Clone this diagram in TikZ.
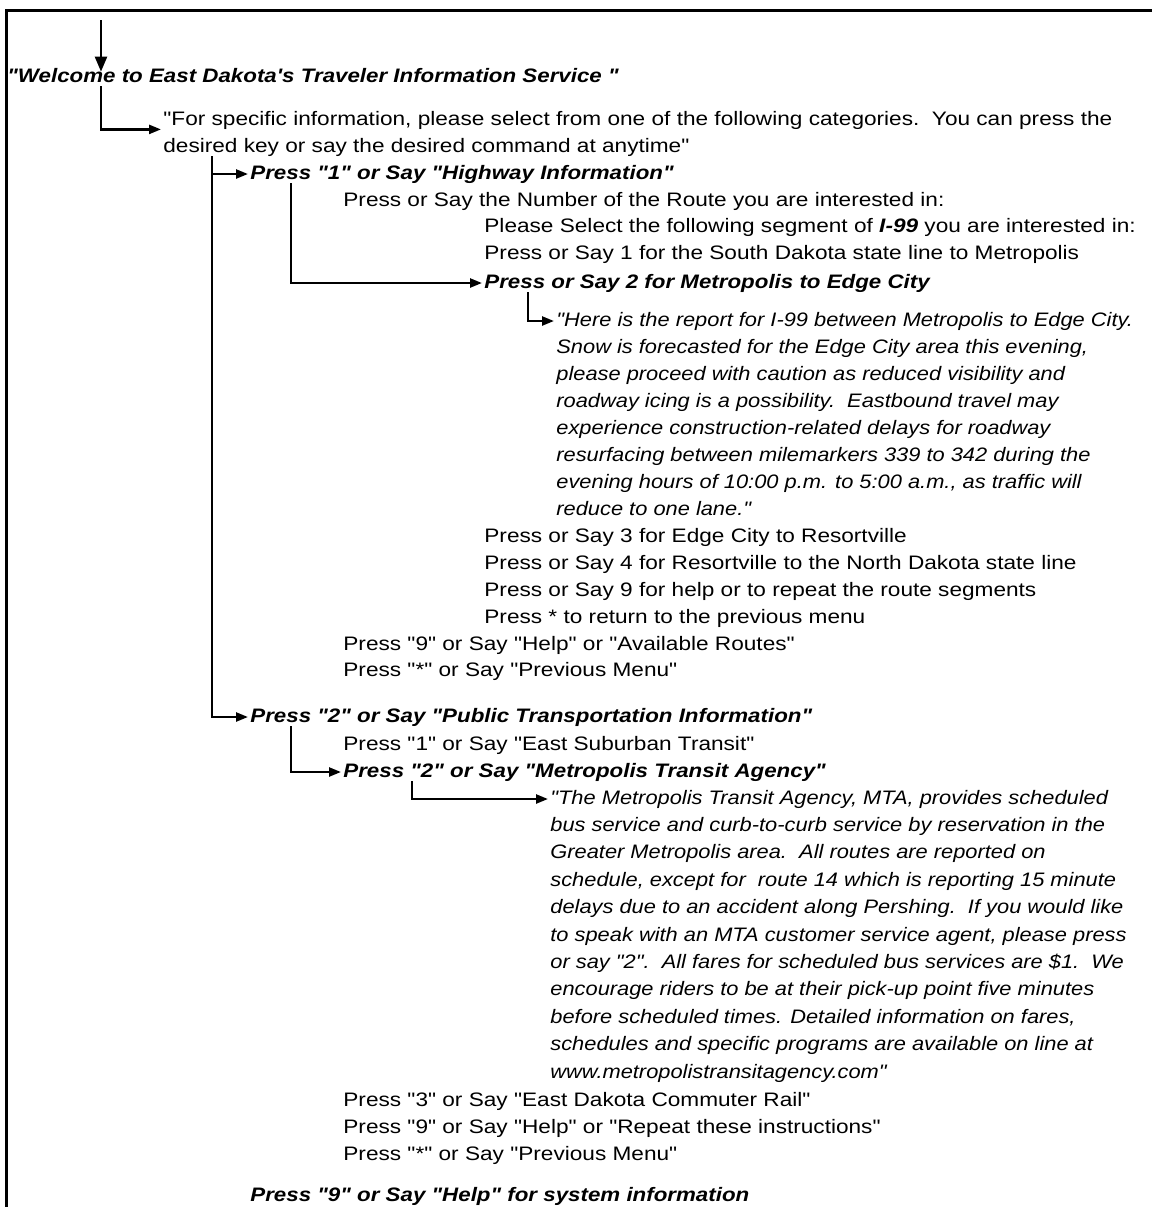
\documentclass[tikz,border=0pt]{standalone}
\usepackage{fontspec}
\setmainfont{Liberation Sans}[Ligatures=TeXOff]
\newfontfamily\regf{Liberation Sans}[Ligatures=TeXOff,FakeStretch=1.16]
\newfontfamily\hdf{Liberation Sans}[Ligatures=TeXOff,FakeStretch=1.145]
\newfontfamily\qtf{Liberation Sans}[Ligatures=TeXOff,FakeStretch=1.12]
\usetikzlibrary{arrows.meta}
\begin{document}
\begin{tikzpicture}[x=0.5pt,y=-0.5pt,
  every node/.style={anchor=base west, inner sep=0pt, text height=7pt, text depth=2pt},
  txt/.style={font=\fontsize{9.75}{11}\regf},
  hd/.style={font=\fontsize{9.75}{11}\hdf\bfseries\itshape},
  qt/.style={font=\fontsize{9.75}{11}\qtf\itshape},
  conn/.style={line width=1.2pt, -{Triangle[length=6pt,width=4.5pt]}, shorten >=1pt},
  topconn/.style={line width=1.2pt, -{Triangle[length=7.5pt,width=6pt]}, shorten >=-2pt},
  frame/.style={line width=1.5pt}
]
\useasboundingbox (0,0) rectangle (1152,1207);
\draw[frame] (6,1215) -- (6,10) -- (1160,10);

\node[hd] (welcome) at (7,82) {"Welcome to East Dakota's Traveler Information Service "};
\node[txt] (for1) at (163,125) {"For specific information, please select from one of the following categories.\ \ You can press the};
\node[txt] (for2) at (163,152) {desired key or say the desired command at anytime"};
\node[hd] (p1) at (250,179) {Press "1" or Say "Highway Information"};
\node[txt] (route) at (343,206) {Press or Say the Number of the Route you are interested in:};
\node[txt] (seg) at (484,232) {Please Select the following segment of {\bfseries\itshape I-99} you are interested in:};
\node[txt] (s1) at (484,259) {Press or Say 1 for the South Dakota state line to Metropolis};
\node[hd] (s2) at (484,288) {Press or Say 2 for Metropolis to Edge City};
\node[qt] (r1) at (556,326) {"Here is the report for I-99 between Metropolis to Edge City.};
\node[qt] (r2) at (556,353) {Snow is forecasted for the Edge City area this evening,};
\node[qt] (r3) at (556,380) {please proceed with caution as reduced visibility and};
\node[qt] (r4) at (556,407) {roadway icing is a possibility.\ \ Eastbound travel may};
\node[qt] (r5) at (556,434) {experience construction-related delays for roadway};
\node[qt] (r6) at (556,461) {resurfacing between milemarkers 339 to 342 during the};
\node[qt] (r7) at (556,488) {evening hours of 10:00 p.m. to 5:00 a.m., as traffic will};
\node[qt] (r8) at (556,515) {reduce to one lane."};
\node[txt] (s3) at (484,542) {Press or Say 3 for Edge City to Resortville};
\node[txt] (s4) at (484,569) {Press or Say 4 for Resortville to the North Dakota state line};
\node[txt] (s9) at (484,596) {Press or Say 9 for help or to repeat the route segments};
\node[txt] (sstar) at (484,623) {Press * to return to the previous menu};
\node[txt] (help1) at (343,650) {Press "9" or Say "Help" or "Available Routes"};
\node[txt] (prev1) at (343,676) {Press "*" or Say "Previous Menu"};
\node[hd] (p2) at (250,722) {Press "2" or Say "Public Transportation Information"};
\node[txt] (e1) at (343,750) {Press "1" or Say "East Suburban Transit"};
\node[hd] (m2) at (343,777) {Press "2" or Say "Metropolis Transit Agency"};
\node[qt] (t1) at (550,804) {"The Metropolis Transit Agency, MTA, provides scheduled};
\node[qt] (t2) at (550,831.4) {bus service and curb-to-curb service by reservation in the};
\node[qt] (t3) at (550,858.8) {Greater Metropolis area.\ \ All routes are reported on};
\node[qt] (t4) at (550,886.2) {schedule, except for\ \ route 14 which is reporting 15 minute};
\node[qt] (t5) at (550,913.6) {delays due to an accident along Pershing.\ \ If you would like};
\node[qt] (t6) at (550,941) {to speak with an MTA customer service agent, please press};
\node[qt] (t7) at (550,968.4) {or say "2".\ \ All fares for scheduled bus services are \$1.\ \ We};
\node[qt] (t8) at (550,995.8) {encourage riders to be at their pick-up point five minutes};
\node[qt] (t9) at (550,1023.2) {before scheduled times. Detailed information on fares,};
\node[qt] (t10) at (550,1050.6) {schedules and specific programs are available on line at};
\node[qt] (t11) at (550,1078) {www.metropolistransitagency.com"};
\node[txt] (rail) at (343,1106) {Press "3" or Say "East Dakota Commuter Rail"};
\node[txt] (help2) at (343,1133) {Press "9" or Say "Help" or "Repeat these instructions"};
\node[txt] (prev2) at (343,1160) {Press "*" or Say "Previous Menu"};
\node[hd] (sys) at (250,1201) {Press "9" or Say "Help" for system information};

\coordinate (start) at (101,20);
\draw[topconn] (start) -- (start |- welcome.north);
\draw[conn] (101,0 |- welcome.south) |- (for1.south west);
\draw[conn] (212,0 |- for2.south) |- (p1.west);
\draw[conn] (212,0 |- for2.south) |- (p2.west);
\draw[conn] (291,0 |- p1.south) |- (s2.west);
\draw[conn] (528,0 |- s2.south) |- (r1.west);
\draw[conn] (291,0 |- p2.south) |- (m2.west);
\draw[conn] (412,0 |- m2.south) |- (t1.west);
\end{tikzpicture}
\end{document}
